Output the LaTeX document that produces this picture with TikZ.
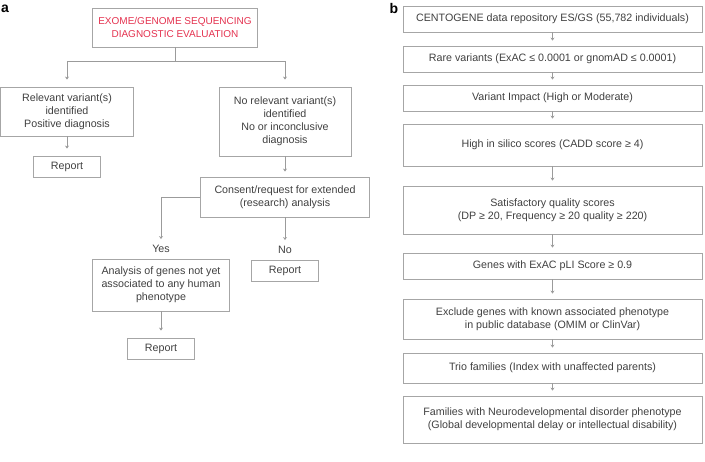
\documentclass[tikz,border=0pt]{standalone}
\usepackage{fontspec}
\setmainfont{Liberation Sans}
\usetikzlibrary{arrows.meta}
\definecolor{txt}{HTML}{404040}
\definecolor{ln}{HTML}{9B9B9B}
\definecolor{bx}{HTML}{A6A6A6}
\definecolor{redt}{HTML}{E4324F}
\begin{document}
\begin{tikzpicture}[x=1pt,y=-1pt,
  box/.style={draw=bx,line width=0.8pt,text=txt,align=center,inner sep=0pt,font=\fontsize{10.7}{13}\selectfont},
  line/.style={draw=ln,line width=0.8pt},
  conn/.style={draw=ln,line width=0.8pt,-{Stealth[length=3pt,width=4pt]}},
  lbl/.style={text=txt,font=\fontsize{10.7}{13}\selectfont,inner sep=1pt},
  panel/.style={font=\fontsize{14}{14}\selectfont\bfseries,text=black,inner sep=0pt}]
\useasboundingbox (0,0) rectangle (705,462);
% panel labels
\node[panel] (pa) at (5,9) {a};
\node[panel] (pb) at (394,8) {b};
% panel a
\node[box,text=redt,font=\fontsize{10}{13}\selectfont,minimum width=165pt,minimum height=39pt] (top) at (175,27.5) {EXOME/GENOME SEQUENCING\\DIAGNOSTIC EVALUATION};
\node[box,minimum width=133pt,minimum height=49pt] (rel) at (67,111.5) {Relevant variant(s)\\identified\\Positive diagnosis};
\node[box,minimum width=132pt,minimum height=69pt] (norel) at (285,121.5) {No relevant variant(s)\\identified\\No or inconclusive\\diagnosis};
\node[box,minimum width=67pt,minimum height=21pt] (rep1) at (67,166.5) {Report};
\node[box,minimum width=169pt,minimum height=40pt] (consent) at (285,197) {Consent/request for extended\\(research) analysis};
\node[lbl] (yes) at (161,249) {Yes};
\node[lbl] (no) at (285,250) {No};
\node[box,minimum width=137pt,minimum height=52pt] (analysis) at (161,285) {Analysis of genes not yet\\associated to any human\\phenotype};
\node[box,minimum width=67pt,minimum height=21pt] (rep2) at (285,270.5) {Report};
\node[box,minimum width=67pt,minimum height=21pt] (rep3) at (161,348.5) {Report};
\draw[line] (top.south) -- ++(0,14) coordinate (jc);
\draw[line] (jc -| rel.north) -- (jc -| norel.north);
\draw[conn,shorten >=7pt] (jc -| rel.north) -- (rel.north);
\draw[conn,shorten >=7pt] (jc -| norel.north) -- (norel.north);
\draw[conn,shorten >=7pt] (rel.south) -- (rep1.north);
\draw[conn,shorten >=5pt] (norel.south) -- (consent.north);
\draw[conn,shorten >=5pt] (consent.west) -| (yes.north);
\draw[conn,shorten >=5pt] (consent.south) -- (no.north);
\draw[conn,shorten >=7pt] (analysis.south) -- (rep3.north);
% panel b
\tikzset{bbox/.style={box,minimum width=299pt}}
\node[bbox,minimum height=26pt] (b1) at (552.5,19) {CENTOGENE data repository ES/GS (55,782 individuals)};
\node[bbox,minimum height=26pt] (b2) at (552.5,59) {Rare variants (ExAC ≤ 0.0001 or gnomAD ≤ 0.0001)};
\node[bbox,minimum height=26pt] (b3) at (552.5,98) {Variant Impact (High or Moderate)};
\node[bbox,minimum height=42pt] (b4) at (552.5,145) {High in silico scores (CADD score ≥ 4)};
\node[bbox,minimum height=48pt] (b5) at (552.5,210) {Satisfactory quality scores\\(DP ≥ 20, Frequency ≥ 20 quality ≥ 220)};
\node[bbox,minimum height=26pt] (b6) at (552.5,266) {Genes with ExAC pLI Score ≥ 0.9};
\node[bbox,minimum height=40pt] (b7) at (552.5,319) {Exclude genes with known associated phenotype\\in public database (OMIM or ClinVar)};
\node[bbox,minimum height=30pt] (b8) at (552.5,368) {Trio families (Index with unaffected parents)};
\node[bbox,minimum height=47pt] (b9) at (552.5,419.5) {Families with Neurodevelopmental disorder phenotype\\(Global developmental delay or intellectual disability)};
\foreach \u/\v in {b1/b2,b2/b3,b3/b4,b4/b5,b5/b6,b6/b7,b7/b8,b8/b9}
  \draw[conn,shorten >=5pt] (\u.south) -- (\v.north);
\end{tikzpicture}
\end{document}
